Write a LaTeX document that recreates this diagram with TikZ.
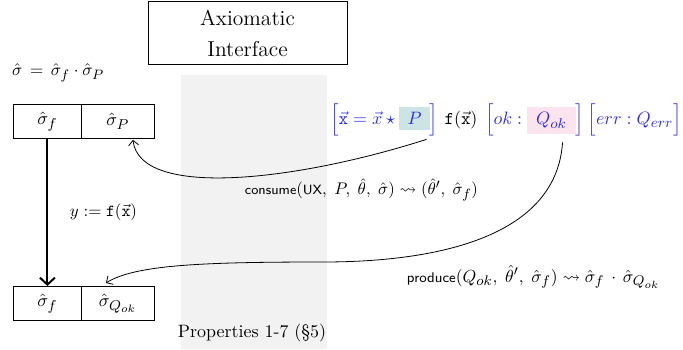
\documentclass[tikz,border=0pt]{standalone}
\usepackage{graphicx}
\usepackage{amsmath,amssymb}
\usetikzlibrary{arrows.meta,calc}
\definecolor{bracketblue}{RGB}{45,45,235}
\definecolor{ptint}{RGB}{204,228,228}
\definecolor{qtint}{RGB}{252,228,238}
\definecolor{bandgray}{RGB}{242,242,242}
\DeclareMathSizes{10}{10}{8}{6}
\newcommand{\bigt}[1]{\scalebox{1.8}{#1}}
\newcommand{\fitw}[2]{\resizebox{#1}{!}{#2}}
\newcommand{\sfw}[1]{\textsf{\footnotesize #1}}
\setlength{\fboxsep}{3pt}
\begin{document}
\begin{tikzpicture}[x=1bp,y=-1bp,
  cellL/.style={draw, line width=0.8bp, minimum width=68bp, minimum height=34bp, inner sep=0pt, anchor=north west},
  cellR/.style={cellL, minimum width=73bp},
  lbl/.style={inner sep=0pt},
  link/.style={line width=0.8bp, -{Straight Barb[length=5bp,width=10bp]}},
  mainarrow/.style={line width=2bp, -{Straight Barb[length=7bp,width=15bp]}}]
\useasboundingbox (0,0) rectangle (683,349);
\fill[bandgray] (181,75) rectangle (327,349);

% title box
\node[draw, line width=0.8bp, minimum width=199bp, minimum height=63bp, inner sep=0pt] (ax) at (247.5,32.5) {};
\node[lbl] (ax1) at (247.5,17.5) {\bigt{\large Axiomatic}};
\node[lbl] (ax2) at (247.5,49.5) {\bigt{\large Interface}};

% state equation
\node[lbl, anchor=west] (eq) at (12,73) {\fitw{92bp}{$\hat\sigma \,=\, \hat\sigma_f \cdot \hat\sigma_P$}};

% cells
\node[cellL] (tf) at (13,104) {\bigt{$\hat\sigma_f$}};
\node[cellR] (tp) at (81,104) {\bigt{$\hat\sigma_P$}};
\node[cellL] (bf) at (13,286) {\bigt{$\hat\sigma_f$}};
\node[cellR] (bq) at (81,286) {\bigt{$\hat\sigma_{Q_{ok}}$}};

% specification
\node[lbl, anchor=west] (b1) at (330,120) {\bigt{\color{bracketblue}$\left[\vec{\mathtt{x}} = \vec{x}\star\colorbox{ptint}{$\,P\,$}\right]$}};
\node[lbl] (fx) at (461,120) {\bigt{$\mathtt{f}(\vec{\mathtt{x}})$}};
\node[lbl, anchor=west] (b2) at (485,120) {\bigt{\color{bracketblue}$\left[ok:\colorbox{qtint}{$\hspace{2pt}Q_{ok}\hspace{2pt}$}\right]$}};
\node[lbl, anchor=east] (b3) at (682,120) {\bigt{\color{bracketblue}$\left[err:Q_{err}\vphantom{\colorbox{qtint}{$Q_{ok}$}}\right]$}};

% labels
\node[lbl] (ylab) at (103.5,212) {\fitw{67bp}{$y \mathrel{:=} \mathtt{f}(\vec{\mathtt{x}})$}};
\node[lbl] (cons) at (361.5,190) {\fitw{233bp}{$\sfw{consume}(\sfw{UX},\; P,\; \hat\theta,\; \hat\sigma) \rightsquigarrow (\hat\theta',\; \hat\sigma_f)$}};
\node[lbl] (prod) at (533.5,277) {\fitw{253bp}{$\sfw{produce}(Q_{ok},\; \hat\theta',\; \hat\sigma_f) \rightsquigarrow \hat\sigma_f \,\cdot\, \hat\sigma_{Q_{ok}}$}};
\node[lbl] (props) at (252,333) {\bigt{Properties 1-7 (\S5)}};

% connectors
\coordinate (c1) at ($(b1.south east)+(-12,3)$);
\coordinate (c2) at ($(b2.south east)+(-22,6)$);
\coordinate (tpin) at ($(tp.south)+(15,1)$);
\coordinate (bqin) at ($(bq.north)+(-12,-3)$);
\coordinate (mid2) at (323,262);

\draw[mainarrow] (tf.south) -- (bf.north);
\draw[link] (c1) .. controls (300,180) and (140,200) .. (tpin);
\draw[link] (c2) .. controls (556,240) and (430,262) .. (mid2) .. controls (200,262) and (135,265) .. (bqin);
\end{tikzpicture}
\end{document}
